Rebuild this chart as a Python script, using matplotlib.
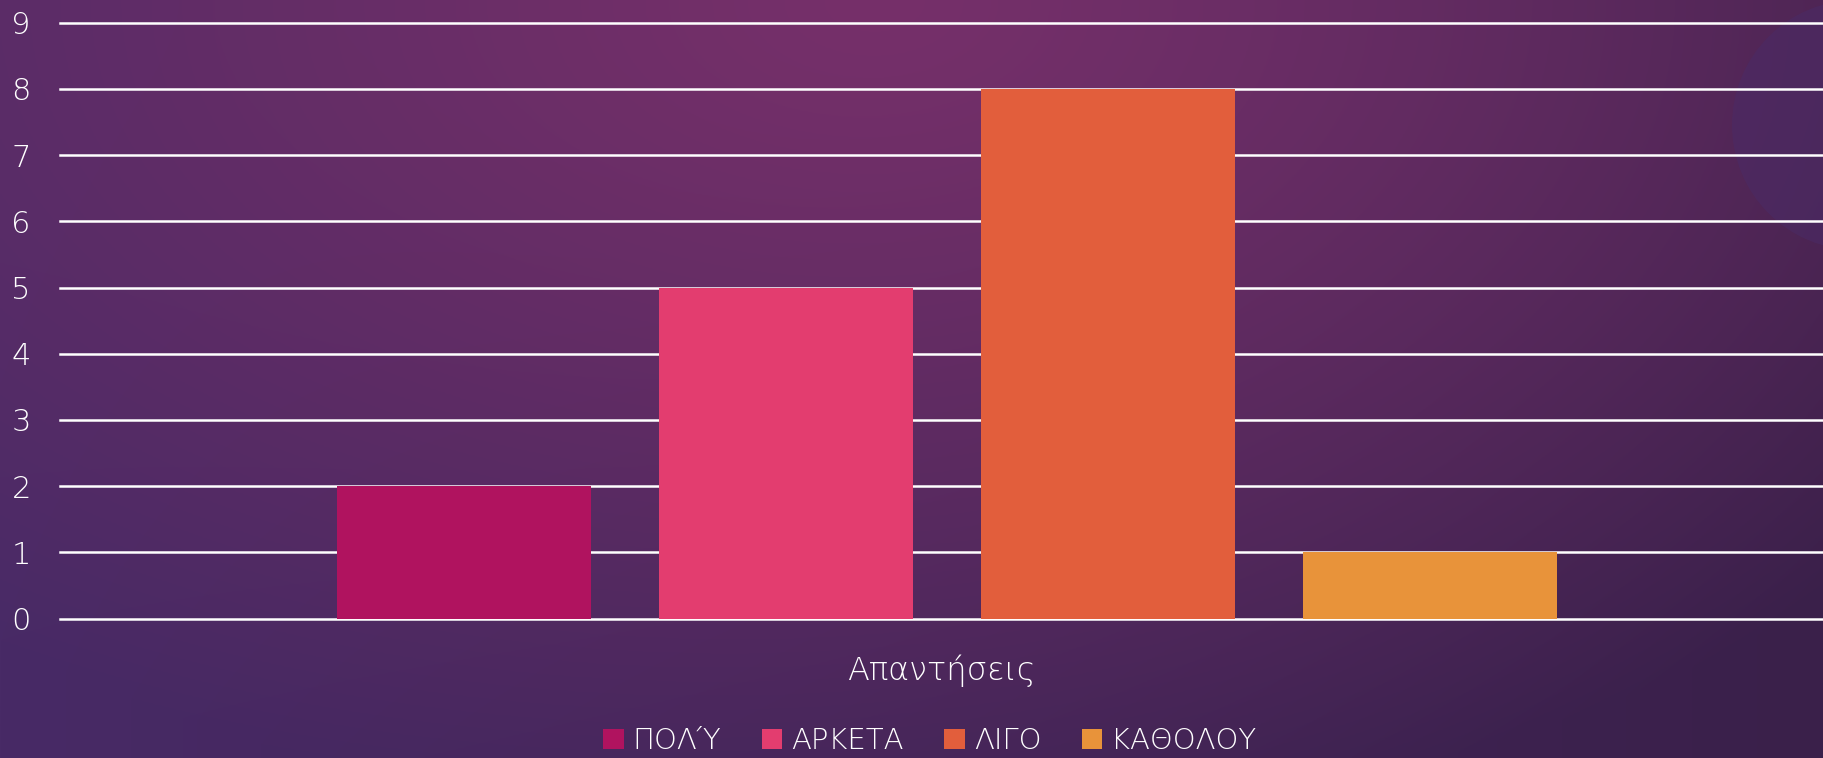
import numpy as np
import matplotlib
matplotlib.use('Agg')
import matplotlib.pyplot as plt
from matplotlib.patches import Circle

# data
categories = ['Απαντήσεις']
series_names = ['ΠΟΛΎ', 'ΑΡΚΕΤΑ', 'ΛΙΓΟ', 'ΚΑΘΟΛΟΥ']
series_values = [2, 5, 8, 1]
series_colors = ['#b0135f', '#e33d6f', '#e25e3c', '#e8933a']
y_ticks = list(range(0, 10))

plt.rcParams['font.family'] = ['DejaVu Sans']

W, H = 1823, 758
fig = plt.figure(figsize=(W / 100, H / 100), dpi=100)

# background: soft purple radial gradient
bg = fig.add_axes([0, 0, 1, 1], zorder=-10)
yy, xx = np.mgrid[0:1:300j, 0:1:720j]
d = np.sqrt(((xx - 0.48) / 0.75) ** 2 + ((yy - 0.0) / 1.1) ** 2)
d = np.clip(d, 0, 1)[..., None]
center = np.array([0x76, 0x30, 0x6a]) / 255
edge_l = np.array([0x48, 0x2a, 0x66]) / 255
edge_r = np.array([0x3a, 0x20, 0x4a]) / 255
edge = edge_l * (1 - xx[..., None]) + edge_r * xx[..., None]
img = center * (1 - d ** 1.2) + edge * d ** 1.2
bg.imshow(img, extent=[0, W, H, 0], aspect='auto')
bg.add_patch(Circle((1857, 125), 125, color='#4a2b66', alpha=0.55, lw=0))
bg.set_xlim(0, W)
bg.set_ylim(H, 0)
bg.axis('off')

ax = fig.add_axes([60 / W, 1 - 618.5 / H, 1 - 60 / W, (618.5 - 22.7) / H])
ax.patch.set_alpha(0)

step = 0.1826
width = 0.144
for i, (name, val, col) in enumerate(zip(series_names, series_values, series_colors)):
    ax.bar(0 + (i - 1.5) * step + 0.003, val, width=width, color=col, label=name, zorder=3)

ax.set_xlim(-0.5, 0.5)
ax.set_ylim(0, 9)
ax.set_yticks(y_ticks)
ax.set_xticks(range(len(categories)))
ax.set_xticklabels(categories)
ax.grid(axis='y', color='white', lw=1.8, zorder=1)
ax.set_axisbelow(True)
for gl in ax.get_ygridlines():
    gl.set_clip_on(False)
for s in ax.spines.values():
    s.set_visible(False)
ax.tick_params(axis='y', length=0, pad=21, labelsize=22, labelcolor='white')
ax.tick_params(axis='x', length=0, pad=26, labelsize=23, labelcolor='white')
for t in ax.get_yticklabels() + ax.get_xticklabels():
    t.set_fontweight('light')

leg = fig.legend(loc='center', bbox_to_anchor=(0.51, 0.022), ncol=4, frameon=False,
                 fontsize=21, handlelength=0.7, handleheight=0.7, handletextpad=0.3,
                 columnspacing=1.4)
for t in leg.get_texts():
    t.set_color('white')
    t.set_fontweight('light')

fig.savefig('out.png', dpi=100)
